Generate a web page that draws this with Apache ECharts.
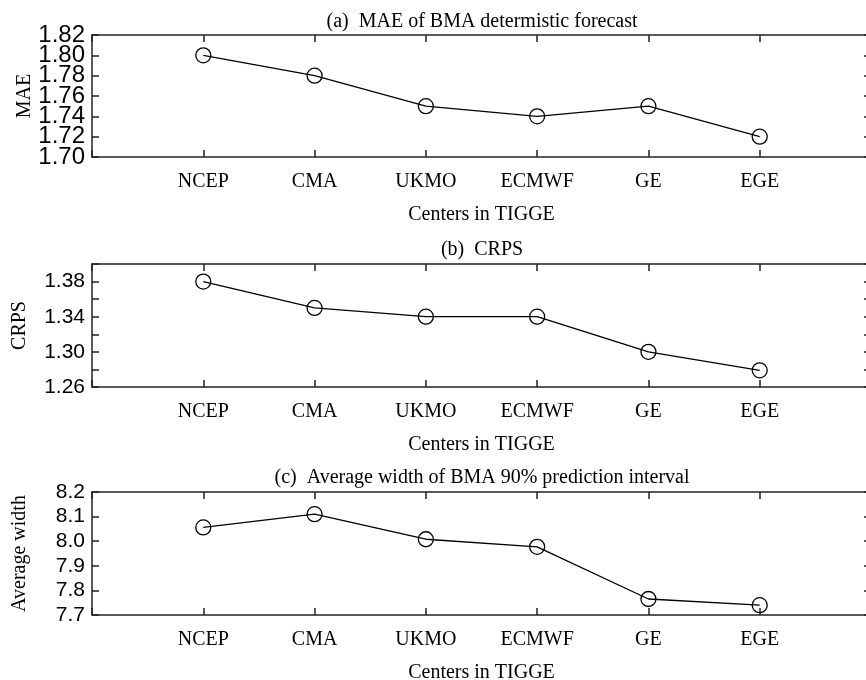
<!DOCTYPE html>
<html>
<head>
<meta charset="utf-8">
<script src="https://cdn.jsdelivr.net/npm/echarts@6/dist/echarts.min.js"></script>
<style>html,body{margin:0;padding:0;background:#fff}#c{width:866px;height:680px}</style>
</head>
<body>
<div id="c"></div>
<script>
const categories = ['NCEP', 'CMA', 'UKMO', 'ECMWF', 'GE', 'EGE'];
const maeValues = [1.80, 1.78, 1.75, 1.74, 1.75, 1.72];
const crpsValues = [1.38, 1.35, 1.34, 1.34, 1.30, 1.279];
const widthValues = [8.056, 8.11, 8.008, 7.977, 7.765, 7.74];
const maeTicks = ['1.70', '1.72', '1.74', '1.76', '1.78', '1.80', '1.82'];
const crpsTicks = ['1.26', '1.30', '1.34', '1.38'];
const widthTicks = ['7.7', '7.8', '7.9', '8.0', '8.1', '8.2'];
const titles = ['(a)  MAE of BMA determistic forecast', '(b)  CRPS', '(c)  Average width of BMA 90% prediction interval'];
const yNames = ['MAE', 'CRPS', 'Average width'];
const xName = 'Centers in TIGGE';

const chart = echarts.init(document.getElementById('c'));
const SERIF = 'Liberation Serif';
const SANS = 'Liberation Sans';
const grids = [
  {left: 92, top: 35, width: 779, height: 122, outerBoundsMode: 'none', containLabel: false},
  {left: 92, top: 264, width: 779, height: 123, outerBoundsMode: 'none', containLabel: false},
  {left: 92, top: 492, width: 779, height: 123, outerBoundsMode: 'none', containLabel: false}
];
const yCfg = [
  {min: 1.70, max: 1.82, interval: 0.02, ticks: maeTicks, dec: 2, fs: 24, gap: 57},
  {min: 1.26, max: 1.40, interval: 0.02, ticks: crpsTicks, dec: 2, fs: 21, gap: 62},
  {min: 7.7, max: 8.2, interval: 0.1, ticks: widthTicks, dec: 1, fs: 21, gap: 62}
];
const seriesVals = [maeValues, crpsValues, widthValues];
const lineStyle = {color: '#222', width: 1.5};

const xAxes = [], yAxes = [], series = [], titleArr = [];
grids.forEach((g, i) => {
  const xBase = xAxes.length, yBase = yAxes.length;
  xAxes.push({
    type: 'value', gridIndex: i, min: 0, max: 7, interval: 1, position: 'bottom',
    axisLine: {show: true, onZero: false, lineStyle},
    axisTick: {show: true, inside: true, length: 7, lineStyle},
    splitLine: {show: false},
    axisLabel: {
      margin: 15, color: '#000', fontFamily: SERIF, fontSize: 20,
      formatter: v => (v >= 1 && v <= categories.length) ? categories[v - 1] : ''
    },
    name: xName, nameLocation: 'middle', nameGap: 48, nameMoveOverlap: false,
    nameTextStyle: {color: '#000', fontFamily: SERIF, fontSize: 20}
  });
  xAxes.push({
    type: 'value', gridIndex: i, min: 0, max: 7, interval: 1, position: 'top',
    axisLine: {show: true, onZero: false, lineStyle},
    axisTick: {show: true, inside: true, length: 7, lineStyle},
    splitLine: {show: false}, axisLabel: {show: false}
  });
  const c = yCfg[i];
  [0, 1].forEach(p => {
    const ax = {
      type: 'value', gridIndex: i, min: c.min, max: c.max, interval: c.interval, position: 'left', offset: 0,
      axisLine: {show: p === 0, onZero: false, lineStyle},
      axisTick: {show: p === 0, inside: true, length: 7, lineStyle},
      splitLine: {show: false},
      axisLabel: {
        margin: 7, color: '#000', fontFamily: SANS, fontSize: c.fs,
        showMinLabel: true, showMaxLabel: true, hideOverlap: false,
        formatter: v => {
          const k = Math.round((v - c.min) / c.interval);
          const s = v.toFixed(c.dec);
          return (k % 2 === p && c.ticks.indexOf(s) >= 0) ? s : '';
        }
      }
    };
    if (p === 0) {
      ax.name = yNames[i]; ax.nameLocation = 'middle'; ax.nameRotate = 90;
      ax.nameGap = c.gap; ax.nameMoveOverlap = false;
      ax.nameTextStyle = {color: '#000', fontFamily: SERIF, fontSize: 20};
    }
    yAxes.push(ax);
  });
  yAxes.push({
    type: 'value', gridIndex: i, min: c.min, max: c.max, interval: c.interval, position: 'right',
    axisLine: {show: true, onZero: false, lineStyle},
    axisTick: {show: true, inside: true, length: 7, lineStyle},
    splitLine: {show: false}, axisLabel: {show: false}
  });
  series.push({
    type: 'line', xAxisIndex: xBase, yAxisIndex: yBase,
    data: seriesVals[i].map((v, k) => [k + 1, v]),
    symbol: 'circle', symbolSize: 15,
    itemStyle: {color: 'rgba(255,255,255,0)', borderColor: '#000', borderWidth: 1.3},
    lineStyle: {color: '#000', width: 1.3},
    animation: false
  });
});
titleArr.push({text: titles[0], left: 477, top: 7, textAlign: 'center'});
titleArr.push({text: titles[1], left: 477, top: 235, textAlign: 'center'});
titleArr.push({text: titles[2], left: 477, top: 463, textAlign: 'center'});
titleArr.forEach(t => t.textStyle = {color: '#000', fontFamily: SERIF, fontSize: 20, fontWeight: 'normal'});

chart.setOption({
  animation: false,
  backgroundColor: '#fff',
  title: titleArr,
  grid: grids,
  xAxis: xAxes,
  yAxis: yAxes,
  series: series
});
</script>
</body>
</html>
